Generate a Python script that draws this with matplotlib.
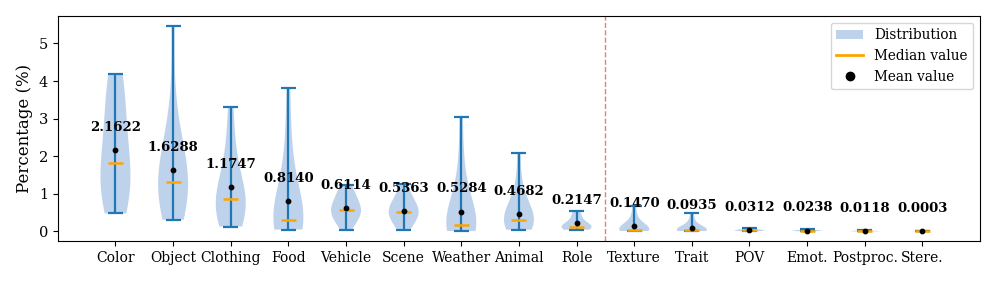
import matplotlib

matplotlib.use("Agg")
import matplotlib.pyplot as plt
from matplotlib.patches import Patch
from matplotlib.lines import Line2D

plt.rcParams["font.family"] = "DejaVu Serif"

CATEGORIES = ["Color", "Object", "Clothing", "Food", "Vehicle", "Scene",
              "Weather", "Animal", "Role", "Texture", "Trait", "POV",
              "Emot.", "Postproc.", "Stere."]

# estimated per-category samples (percentages)
SAMPLES = [
    [0.48, 0.7, 0.9, 1.05, 1.2, 1.35, 1.55, 1.81, 2.1, 2.5, 2.9, 3.3, 3.7, 4.0, 4.18],
    [0.31, 0.55, 0.75, 0.9, 1.0, 1.1, 1.2, 1.32, 1.45, 1.6, 1.8, 2.1, 2.5, 3.2, 5.45],
    [0.13, 0.25, 0.35, 0.45, 0.55, 0.65, 0.75, 0.85, 0.95, 1.1, 1.3, 1.6, 2.0, 2.6, 3.32],
    [0.05, 0.08, 0.12, 0.16, 0.2, 0.24, 0.27, 0.30, 0.4, 0.6, 0.9, 1.3, 1.8, 2.6, 3.82],
    [0.045, 0.2, 0.3, 0.4, 0.45, 0.5, 0.55, 0.575, 0.62, 0.7, 0.8, 0.9, 1.0, 1.1, 1.23],
    [0.035, 0.15, 0.25, 0.35, 0.42, 0.47, 0.5, 0.52, 0.58, 0.65, 0.72, 0.8, 0.9, 1.05, 1.25],
    [0.01, 0.03, 0.06, 0.08, 0.1, 0.12, 0.14, 0.16, 0.25, 0.4, 0.6, 0.9, 1.3, 1.9, 3.03],
    [0.045, 0.1, 0.15, 0.19, 0.22, 0.25, 0.28, 0.30, 0.38, 0.48, 0.6, 0.75, 0.95, 1.3, 2.08],
    [0.045, 0.06, 0.08, 0.09, 0.1, 0.11, 0.12, 0.13, 0.15, 0.18, 0.22, 0.3, 0.4, 0.47, 0.54],
    [0.01, 0.02, 0.025, 0.03, 0.035, 0.04, 0.045, 0.05, 0.07, 0.1, 0.15, 0.22, 0.3, 0.45, 0.67],
    [0.01, 0.015, 0.02, 0.025, 0.028, 0.03, 0.033, 0.035, 0.05, 0.07, 0.1, 0.15, 0.22, 0.33, 0.485],
    [0.005, 0.01, 0.015, 0.02, 0.024, 0.027, 0.029, 0.03, 0.033, 0.037, 0.042, 0.05, 0.06, 0.075, 0.09],
    [0.005, 0.008, 0.011, 0.014, 0.017, 0.019, 0.021, 0.022, 0.024, 0.027, 0.03, 0.035, 0.042, 0.05, 0.06],
    [0.0, 0.002, 0.004, 0.006, 0.007, 0.008, 0.009, 0.01, 0.012, 0.014, 0.017, 0.02, 0.024, 0.029, 0.035],
    [0.0, 0.0, 0.0, 0.0, 0.0, 0.0, 0.0001, 0.0003, 0.0004, 0.0005, 0.0008, 0.001, 0.0015, 0.002, 0.003],
]

MEANS = [2.1622, 1.6288, 1.1747, 0.8140, 0.6114, 0.5363, 0.5284, 0.4682,
         0.2147, 0.1470, 0.0935, 0.0312, 0.0238, 0.0118, 0.0003]

SPLIT_AFTER = 9  # dashed line between Role and Texture


def main():
    fig = plt.figure(figsize=(9.97, 2.85), dpi=100)
    ax = fig.add_axes([0.058, 0.155, 0.925, 0.789])

    pos = list(range(1, len(CATEGORIES) + 1))
    parts = ax.violinplot(SAMPLES, positions=pos, widths=0.52,
                          bw_method=0.75, showextrema=True, showmedians=True)
    for body in parts["bodies"]:
        body.set_facecolor("#aec7e8")
        body.set_edgecolor("none")
        body.set_alpha(0.8)
    for key in ("cbars", "cmins", "cmaxes"):
        parts[key].set_color("#1f77b4")
        parts[key].set_linewidth(1.6)
    parts["cmedians"].set_color("orange")
    parts["cmedians"].set_linewidth(1.8)

    ax.scatter(pos, MEANS, color="black", s=10, zorder=4)
    for p, m in zip(pos, MEANS):
        ax.text(p, m + 0.6, "%.4f" % m, ha="center", va="center",
                fontsize=9.5, fontweight="bold")

    ax.axvline(SPLIT_AFTER + 0.5, color="tab:red", ls="--", lw=1, alpha=0.6)

    ax.set_xticks(pos)
    ax.set_xticklabels(CATEGORIES, fontsize=10)
    ax.set_xlim(0, 16)
    ax.set_ylim(-0.25, 5.73)
    ax.set_yticks(range(6))
    ax.tick_params(axis="y", labelsize=10.5)
    ax.set_ylabel("Percentage (%)", fontsize=12)

    handles = [
        Patch(facecolor="#aec7e8", alpha=0.8, label="Distribution"),
        Line2D([0], [0], color="orange", lw=2, label="Median value"),
        Line2D([0], [0], marker="o", color="black", ls="none", ms=6,
               label="Mean value"),
    ]
    ax.legend(handles=handles, loc="upper right", fontsize=9.8)

    fig.savefig("out.png", dpi=100)


if __name__ == "__main__":
    main()
